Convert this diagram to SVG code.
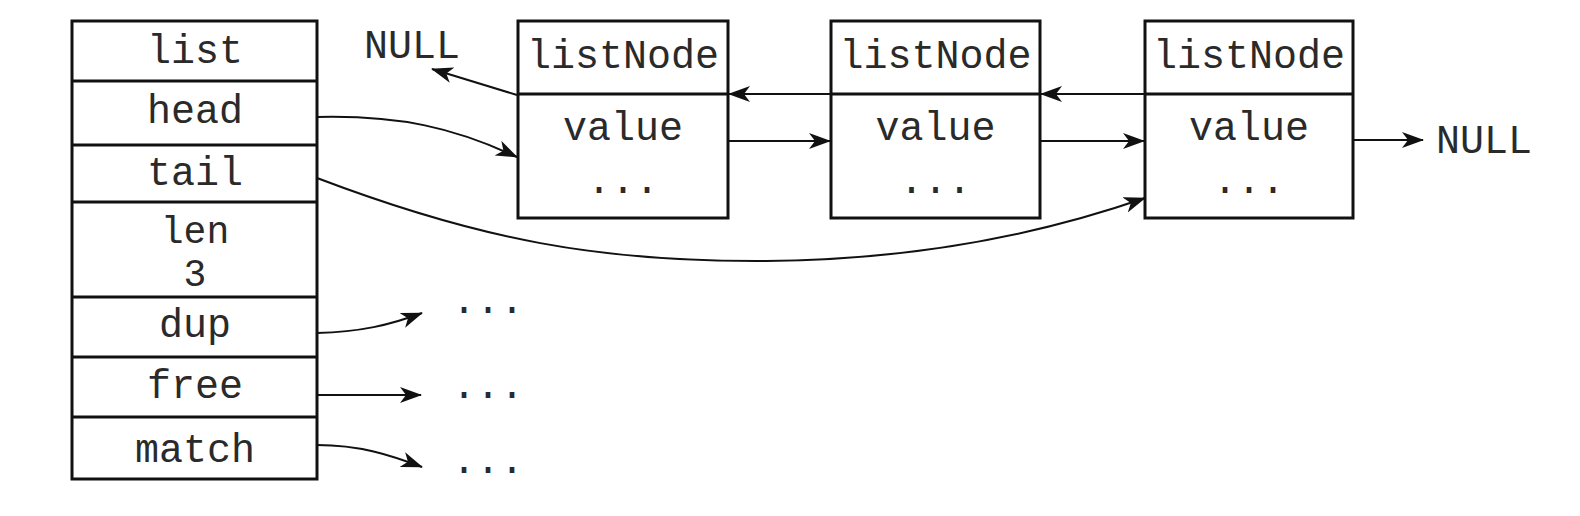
<svg xmlns="http://www.w3.org/2000/svg" width="1580" height="516" viewBox="0 0 1580 516">
<defs>
<marker id="ah" viewBox="0 0 22 16" refX="21" refY="8" markerWidth="22" markerHeight="16" markerUnits="userSpaceOnUse" orient="auto">
<path d="M0,0 L22,8 L0,16 L6,8 Z" fill="#111"/>
</marker>
</defs>
<style>
.box{fill:#fff;stroke:#111;stroke-width:3}
.div{stroke:#111;stroke-width:3}
.t{font-family:"Liberation Mono","Courier New",monospace;font-size:40px;fill:#2a2a2a;text-anchor:middle}
.s{font-size:38px}
.c{fill:none;stroke:#111;stroke-width:2;marker-end:url(#ah)}
</style>
<rect width="1580" height="516" fill="#fff"/>
<g id="list">
<rect class="box" x="72" y="21" width="245" height="458"/>
<line class="div" x1="72" y1="81" x2="317" y2="81"/>
<line class="div" x1="72" y1="145" x2="317" y2="145"/>
<line class="div" x1="72" y1="202" x2="317" y2="202"/>
<line class="div" x1="72" y1="297" x2="317" y2="297"/>
<line class="div" x1="72" y1="357" x2="317" y2="357"/>
<line class="div" x1="72" y1="417" x2="317" y2="417"/>
<text class="t" x="195" y="63">list</text>
<text class="t" x="195" y="123">head</text>
<text class="t" x="195" y="185">tail</text>
<text class="t s" x="195" y="243">len</text>
<text class="t s" x="195" y="286">3</text>
<text class="t" x="195" y="337">dup</text>
<text class="t" x="195" y="398">free</text>
<text class="t" x="195" y="462">match</text>
</g>
<g id="node1">
<rect class="box" x="518" y="21" width="210" height="197"/>
<line class="div" x1="518" y1="94" x2="728" y2="94"/>
<text class="t" x="623" y="68">listNode</text>
<text class="t" x="623" y="140">value</text>
<text class="t" x="623" y="193">...</text>
</g>
<g id="node2">
<rect class="box" x="831" y="21" width="209" height="197"/>
<line class="div" x1="831" y1="94" x2="1040" y2="94"/>
<text class="t" x="935.5" y="68">listNode</text>
<text class="t" x="935.5" y="140">value</text>
<text class="t" x="935.5" y="193">...</text>
</g>
<g id="node3">
<rect class="box" x="1145" y="21" width="208" height="197"/>
<line class="div" x1="1145" y1="94" x2="1353" y2="94"/>
<text class="t" x="1249" y="68">listNode</text>
<text class="t" x="1249" y="140">value</text>
<text class="t" x="1249" y="193">...</text>
</g>
<g id="null-left"><text class="t" x="412" y="58">NULL</text></g>
<g id="null-right"><text class="t" x="1484" y="153">NULL</text></g>
<g id="dots">
<text class="t" x="488" y="313">...</text>
<text class="t" x="488" y="398">...</text>
<text class="t" x="488" y="473">...</text>
</g>
<g id="connectors">
<path class="c" d="M517,95 L432,69"/>
<path class="c" d="M317,117 C400,115 455,128 517,157"/>
<path class="c" d="M317,178 C480,240 600,262 766,261 C900,260 1030,238 1145,198"/>
<path class="c" d="M831,94 L729,94"/>
<path class="c" d="M1145,94 L1041,94"/>
<path class="c" d="M728,141 L830,141"/>
<path class="c" d="M1040,141 L1144,141"/>
<path class="c" d="M1353,140 L1423,140"/>
<path class="c" d="M317,333 C360,332 390,325 422,313"/>
<path class="c" d="M317,395 L421,395"/>
<path class="c" d="M317,445 C360,445 390,455 422,467"/>
</g>
</svg>
